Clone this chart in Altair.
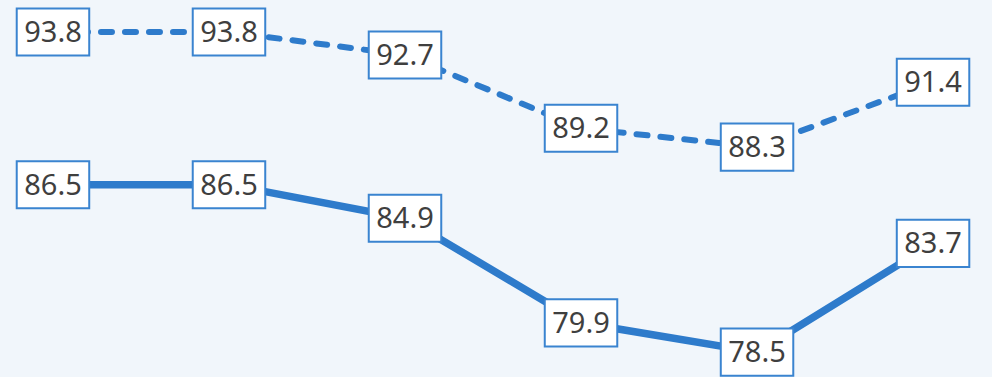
import altair as alt
import pandas as pd

periods = [0, 1, 2, 3, 4, 5]
upper = [93.8, 93.8, 92.7, 89.2, 88.3, 91.4]
lower = [86.5, 86.5, 84.9, 79.9, 78.5, 83.7]

rows = []
for p, u, l in zip(periods, upper, lower):
    rows.append({"period": p, "value": u, "series": "upper"})
    rows.append({"period": p, "value": l, "series": "lower"})
df = pd.DataFrame(rows)

BLUE = "#2E7BCB"
xs = alt.Scale(domain=[-0.301, 5.335], nice=False, zero=False)
ys = alt.Scale(domain=[77.31, 95.33], nice=False, zero=False)
X = alt.X("period:Q", scale=xs, axis=None)
Y = alt.Y("value:Q", scale=ys, axis=None)

base = alt.Chart(df)

line_up = base.transform_filter(alt.datum.series == "upper").mark_line(
    color=BLUE, strokeWidth=6, strokeDash=[11, 13], strokeCap="round"
).encode(x=X, y=Y)

line_lo = base.transform_filter(alt.datum.series == "lower").mark_line(
    color=BLUE, strokeWidth=7.5
).encode(x=X, y=Y)

boxes = base.mark_point(
    shape="M-1,-0.65L1,-0.65L1,0.65L-1,0.65Z",
    size=72.5 * 72.5,
    filled=False,
    fill="white",
    fillOpacity=1,
    stroke="#3A84D0",
    strokeWidth=2,
    opacity=1,
).encode(x=X, y=Y)

labels = base.mark_text(
    font="Noto Sans", fontSize=29, color="#3F3F3F", align="center", baseline="middle", dy=1
).encode(x=X, y=Y, text=alt.Text("value:Q", format=".1f"))

chart = alt.layer(line_up, line_lo, boxes, labels).properties(
    width=992, height=377, background="#F1F6FB", padding=0,
    autosize=alt.AutoSizeParams(type="none"),
).configure_view(stroke=None)

chart.save("out.html", embed_options={"renderer": "svg", "actions": False})
